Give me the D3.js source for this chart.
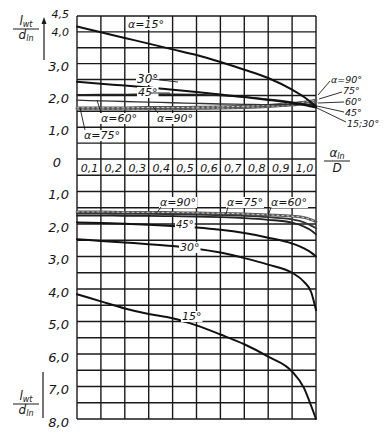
<!DOCTYPE html>
<html><head><meta charset="utf-8">
<script src="https://cdn.jsdelivr.net/npm/d3@7"></script>
<style>
html,body{margin:0;padding:0;background:#fff;}
svg{display:block;}
text{font-family:"DejaVu Sans",sans-serif;font-style:italic;fill:#151515;}
</style></head>
<body><svg id="c" width="384" height="433"></svg>
<script>
// ---- data ----
const uPts = [0,0.1,0.2,0.3,0.4,0.5,0.6,0.7,0.8,0.9,0.95,0.98,1.0];
const top15 = [4.17,3.99,3.81,3.63,3.45,3.27,3.05,2.81,2.55,2.18,1.95,1.78,1.65];
const top30 = [2.43,2.37,2.31,2.25,2.18,2.11,2.03,1.95,1.86,1.76,1.70,1.65,1.62];
const top45 = [2.02,2.03,2.03,2.04,2.04,2.03,2.00,1.95,1.88,1.79,1.73,1.69,1.66];
const top60 = [1.85,1.83,1.81,1.79,1.77,1.75,1.73,1.72,1.71,1.71,1.71,1.72,1.72];
const top75 = [1.57,1.57,1.57,1.58,1.58,1.59,1.60,1.62,1.65,1.70,1.74,1.76,1.78];
const top90 = [1.61,1.61,1.61,1.62,1.62,1.63,1.64,1.66,1.69,1.75,1.79,1.82,1.85];
const bot15 = [4.16,4.38,4.60,4.77,4.90,5.12,5.40,5.70,6.08,6.54,7.05,7.60,8.0];
const bot30 = [2.47,2.52,2.57,2.62,2.68,2.76,2.88,3.05,3.25,3.50,3.78,4.10,4.65];
const bot45 = [1.95,1.97,1.99,2.02,2.06,2.11,2.18,2.28,2.42,2.60,2.75,2.88,3.0];
const bot60 = [1.74,1.74,1.75,1.75,1.76,1.77,1.79,1.82,1.87,1.96,2.08,2.20,2.32];
const bot75 = [1.68,1.68,1.69,1.69,1.70,1.71,1.73,1.75,1.79,1.86,1.95,2.05,2.13];
const bot90 = [1.63,1.63,1.64,1.64,1.65,1.66,1.67,1.69,1.72,1.76,1.80,1.87,1.93];
const xTickVals = [0.1,0.2,0.3,0.4,0.5,0.6,0.7,0.8,0.9,1.0];
const topTickVals = [0,1,2,3,4,4.5];
const botTickVals = [1,2,3,4,5,6,7,8];

// ---- drawing ----
const svg = d3.select("#c");
const x = d3.scaleLinear().domain([0,1]).range([77,316]);
const yTop = d3.scaleLinear().domain([0,4.5]).range([159,16]);
const yBot = d3.scaleLinear().domain([0,8]).range([159,419]);
const loc = d3.formatLocale({decimal:",",thousands:" ",grouping:[3],currency:["",""]});
const f1 = loc.format(".1f");
const fmt = v => v===0 ? "0" : f1(v);
const ink = "#1a1a1a";

// grid
const g = svg.append("g");
const hTop = d3.range(0,9.5).map(i=>yTop(i*0.5));
const hBot = d3.range(1,17).map(i=>yBot(i*0.5));
g.selectAll("line.h").data(hTop.concat(hBot)).join("line")
  .attr("x1",x(0)).attr("x2",x(1)).attr("y1",d=>d).attr("y2",d=>d)
  .attr("stroke",ink).attr("stroke-width",1.4);
g.selectAll("line.v").data(d3.range(0,11).map(i=>i/10)).join("line")
  .attr("x1",d=>x(d)).attr("x2",d=>x(d)).attr("y1",yTop(4.5)).attr("y2",yBot(8))
  .attr("stroke",ink).attr("stroke-width",1.4);

// axes labels
const aTop = svg.append("g").attr("transform","translate(69,0)")
  .call(d3.axisLeft(yTop).tickValues(topTickVals).tickFormat(fmt).tickSizeInner(0).tickSizeOuter(0).tickPadding(0));
const aBot = svg.append("g").attr("transform","translate(69,0)")
  .call(d3.axisLeft(yBot).tickValues(botTickVals).tickFormat(fmt).tickSizeInner(0).tickSizeOuter(0).tickPadding(0));
[aTop,aBot].forEach(a=>{
  a.select(".domain").remove();
  a.selectAll("text").attr("font-size",13).attr("dy","0.55em").style("font-family","DejaVu Sans").style("font-style","italic").attr("fill",ink);
});
aTop.selectAll(".tick").filter(d=>d===4.5).select("text").attr("font-size",11).attr("dy","0.15em");
aTop.selectAll(".tick").filter(d=>d===4).select("text").attr("font-size",11).attr("dy","0.3em");
aTop.selectAll(".tick").filter(d=>d===0).select("text").attr("x",-8).attr("dy","0.6em");

const aX = svg.append("g").attr("transform","translate(0,159)")
  .call(d3.axisBottom(x).tickValues(xTickVals.map(v=>v-0.05)).tickFormat(d=>fmt(Math.round((d+0.05)*10)/10)).tickSizeInner(0).tickSizeOuter(0).tickPadding(5));
aX.select(".domain").remove();
aX.selectAll("text").attr("font-size",11).style("font-family","DejaVu Sans").style("font-style","italic").attr("fill",ink);

// curves
const lineT = d3.line().x((d,i)=>x(uPts[i])).y(d=>yTop(d)).curve(d3.curveMonotoneX);
const lineB = d3.line().x((d,i)=>x(uPts[i])).y(d=>yBot(d)).curve(d3.curveMonotoneX);
const cg = svg.append("g").attr("fill","none").attr("stroke-linecap","round");
function band(gen, arr){
  cg.append("path").attr("d",gen(arr)).attr("stroke","#555").attr("stroke-width",2.8);
  cg.append("path").attr("d",gen(arr)).attr("stroke","#ddd").attr("stroke-width",0.9).attr("stroke-dasharray","2,3");
}
band(lineT, top75); band(lineT, top90);
cg.append("path").attr("d",lineT(top60)).attr("stroke","#333").attr("stroke-width",1.3);
cg.append("path").attr("d",lineT(top45)).attr("stroke","#222").attr("stroke-width",1.5);
cg.append("path").attr("d",lineT(top30)).attr("stroke","#111").attr("stroke-width",2);
cg.append("path").attr("d",lineT(top15)).attr("stroke","#111").attr("stroke-width",2);
band(lineB, bot90);
cg.append("path").attr("d",lineB(bot75)).attr("stroke","#333").attr("stroke-width",1.8);
cg.append("path").attr("d",lineB(bot60)).attr("stroke","#222").attr("stroke-width",1.8);
cg.append("path").attr("d",lineB(bot45)).attr("stroke","#111").attr("stroke-width",2);
cg.append("path").attr("d",lineB(bot30)).attr("stroke","#111").attr("stroke-width",2);
cg.append("path").attr("d",lineB(bot15)).attr("stroke","#111").attr("stroke-width",2);

// annotations
const ann = svg.append("g");
function lbl(t,px,py,fs){ ann.append("text").attr("x",px).attr("y",py).attr("font-size",fs||11).text(t); }
function leader(x1,y1,x2,y2){ ann.append("line").attr("x1",x1).attr("y1",y1).attr("x2",x2).attr("y2",y2).attr("stroke",ink).attr("stroke-width",0.9); }
function bgText(t,px,py,fs){
  const tx = ann.append("text").attr("x",px).attr("y",py).attr("font-size",fs||11).text(t);
  const b = tx.node().getBBox();
  ann.insert("rect","text").attr("x",b.x-1).attr("y",b.y+1).attr("width",b.width+2).attr("height",b.height-2).attr("fill","#fff");
}
bgText("α=15°",128,28);
bgText("30°",137,83,12); leader(152,79,178,82);
bgText("45°",138,96,11); leader(151,93,170,93);
bgText("α=60°",101,122); leader(97,100,101,113);
bgText("α=90°",157,122); leader(153,107,158,113);
bgText("α=75°",84,139); leader(80,108,85,130);
lbl("α=90°",331,83,9.5); leader(318,95,330,81);
lbl("75°",343,94,9.5); leader(319,99,342,92);
lbl("60°",345,105,9.5); leader(318,103,344,102);
lbl("45°",345,116,9.5); leader(317,106,344,112);
lbl("15;30°",347,127,9.5); leader(317,108,346,122);
bgText("α=90°",160,206); leader(161,207,156,214);
bgText("α=75°",227,206); leader(228,207,226,214);
bgText("α=60°",271,206); leader(271,207,268,216);
bgText("45°",176,228,10);
bgText("30°",180,251,11);
bgText("15°",182,320,11);

// axis titles
function frac(num,numSub,den,denSub,cx,yNum,yLine,yDen){
  const t1 = ann.append("text").attr("x",cx).attr("y",yNum).attr("text-anchor","middle").attr("font-size",12);
  t1.append("tspan").text(num); t1.append("tspan").attr("font-size",8).attr("dy",2).text(numSub);
  ann.append("line").attr("x1",cx-13).attr("x2",cx+13).attr("y1",yLine).attr("y2",yLine).attr("stroke",ink).attr("stroke-width",1);
  const t2 = ann.append("text").attr("x",cx).attr("y",yDen).attr("text-anchor","middle").attr("font-size",12);
  t2.append("tspan").text(den); t2.append("tspan").attr("font-size",8).attr("dy",2).text(denSub);
}
frac("l","wt","d","ln",26,25,29,39);
ann.append("line").attr("x1",44).attr("x2",44).attr("y1",20).attr("y2",60).attr("stroke",ink).attr("stroke-width",1.2);
ann.append("path").attr("d","M44,17 L41.5,24 L46.5,24 Z").attr("fill",ink);
frac("l","wt","d","ln",26,400,404,414);
ann.append("line").attr("x1",43).attr("x2",43).attr("y1",372).attr("y2",418).attr("stroke",ink).attr("stroke-width",1.2);
frac("α","ln","D","",337,157,161,172);
</script></body></html>
